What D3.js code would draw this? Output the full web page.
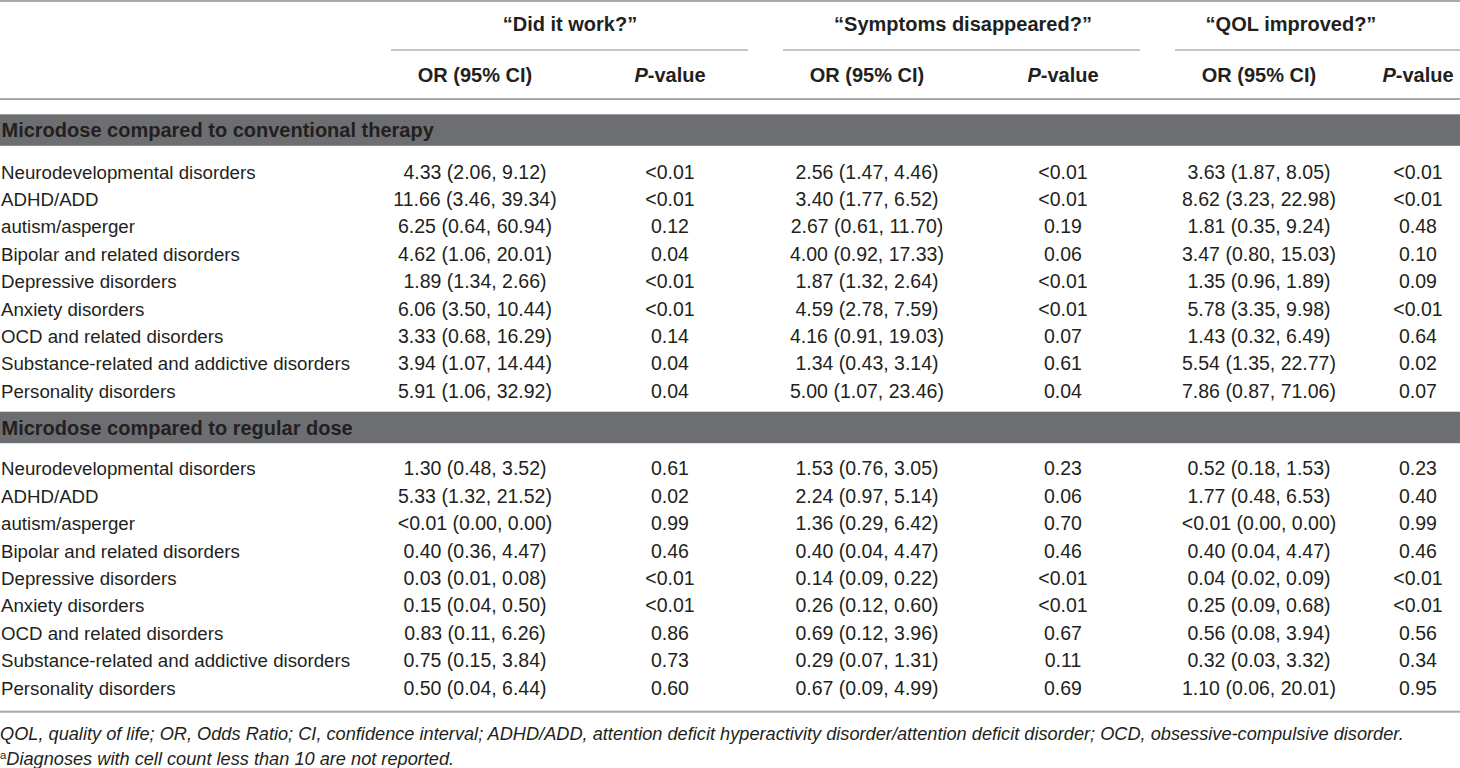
<!DOCTYPE html>
<html>
<head>
<meta charset="utf-8">
<script src="https://cdn.jsdelivr.net/npm/d3@7"></script>
<style>
  body { margin: 0; background: #fff; }
  svg { display: block; font-family: "Liberation Sans", Arial, sans-serif; }
</style>
</head>
<body>
<div id="table"></div>
<script>
// ---- data ----
var groups = ["\u201cDid it work?\u201d", "\u201cSymptoms disappeared?\u201d", "\u201cQOL improved?\u201d"];
var sections = ["Microdose compared to conventional therapy", "Microdose compared to regular dose"];
var diagnoses = [
  "Neurodevelopmental disorders", "ADHD/ADD", "autism/asperger",
  "Bipolar and related disorders", "Depressive disorders", "Anxiety disorders",
  "OCD and related disorders", "Substance-related and addictive disorders", "Personality disorders"
];

// microdose vs conventional therapy
var convWorkOR = ["4.33 (2.06, 9.12)", "11.66 (3.46, 39.34)", "6.25 (0.64, 60.94)", "4.62 (1.06, 20.01)", "1.89 (1.34, 2.66)", "6.06 (3.50, 10.44)", "3.33 (0.68, 16.29)", "3.94 (1.07, 14.44)", "5.91 (1.06, 32.92)"];
var convWorkP = ["<0.01", "<0.01", "0.12", "0.04", "<0.01", "<0.01", "0.14", "0.04", "0.04"];
var convSympOR = ["2.56 (1.47, 4.46)", "3.40 (1.77, 6.52)", "2.67 (0.61, 11.70)", "4.00 (0.92, 17.33)", "1.87 (1.32, 2.64)", "4.59 (2.78, 7.59)", "4.16 (0.91, 19.03)", "1.34 (0.43, 3.14)", "5.00 (1.07, 23.46)"];
var convSympP = ["<0.01", "<0.01", "0.19", "0.06", "<0.01", "<0.01", "0.07", "0.61", "0.04"];
var convQolOR = ["3.63 (1.87, 8.05)", "8.62 (3.23, 22.98)", "1.81 (0.35, 9.24)", "3.47 (0.80, 15.03)", "1.35 (0.96, 1.89)", "5.78 (3.35, 9.98)", "1.43 (0.32, 6.49)", "5.54 (1.35, 22.77)", "7.86 (0.87, 71.06)"];
var convQolP = ["<0.01", "<0.01", "0.48", "0.10", "0.09", "<0.01", "0.64", "0.02", "0.07"];

// microdose vs regular dose
var regWorkOR = ["1.30 (0.48, 3.52)", "5.33 (1.32, 21.52)", "<0.01 (0.00, 0.00)", "0.40 (0.36, 4.47)", "0.03 (0.01, 0.08)", "0.15 (0.04, 0.50)", "0.83 (0.11, 6.26)", "0.75 (0.15, 3.84)", "0.50 (0.04, 6.44)"];
var regWorkP = ["0.61", "0.02", "0.99", "0.46", "<0.01", "<0.01", "0.86", "0.73", "0.60"];
var regSympOR = ["1.53 (0.76, 3.05)", "2.24 (0.97, 5.14)", "1.36 (0.29, 6.42)", "0.40 (0.04, 4.47)", "0.14 (0.09, 0.22)", "0.26 (0.12, 0.60)", "0.69 (0.12, 3.96)", "0.29 (0.07, 1.31)", "0.67 (0.09, 4.99)"];
var regSympP = ["0.23", "0.06", "0.70", "0.46", "<0.01", "<0.01", "0.67", "0.11", "0.69"];
var regQolOR = ["0.52 (0.18, 1.53)", "1.77 (0.48, 6.53)", "<0.01 (0.00, 0.00)", "0.40 (0.04, 4.47)", "0.04 (0.02, 0.09)", "0.25 (0.09, 0.68)", "0.56 (0.08, 3.94)", "0.32 (0.03, 3.32)", "1.10 (0.06, 20.01)"];
var regQolP = ["0.23", "0.40", "0.99", "0.46", "<0.01", "<0.01", "0.56", "0.34", "0.95"];

var footnote1 = "QOL, quality of life; OR, Odds Ratio; CI, confidence interval; ADHD/ADD, attention deficit hyperactivity disorder/attention deficit disorder; OCD, obsessive-compulsive disorder.";
var footnote2 = "Diagnoses with cell count less than 10 are not reported.";

// ---- layout ----
var width = 1460, height = 768;
var ink = "#231f20", ruleLight = "#a7a9ac", ruleDark = "#8c8c8c", barFill = "#6d6e71";
var bodySize = 19.5, labelSize = 18.7, headSize = 20;

var svg = d3.select("#table").append("svg")
  .attr("width", width)
  .attr("height", height);

// column centres (OR, P) per question group
var colKeys = ["g0or", "g0p", "g1or", "g1p", "g2or", "g2p"];
var colX = d3.scaleOrdinal().domain(colKeys).range([475, 670, 867, 1063, 1259, 1418]);
var groupSpan = [[391, 748], [783, 1140], [1175, 1460]];
var groupX = d3.scaleOrdinal().domain(d3.range(3)).range([570, 963, 1291]);

// rows within each section
var rowY = [
  d3.scaleLinear().domain([0, diagnoses.length - 1]).range([171.7, 390.7]),
  d3.scaleLinear().domain([0, diagnoses.length - 1]).range([468.3, 687.7])
];
var barY = [114.3, 411.7], barH = 31.5;

// baseline offset so text is centred on its row
function base(y, size) { return y + size * 0.36; }

// top rule
svg.append("rect").attr("x", 0).attr("y", 0).attr("width", width).attr("height", 2).attr("fill", ruleLight);

// group headers and underlines
svg.selectAll("text.group").data(groups).enter().append("text")
  .attr("class", "group")
  .attr("x", function(d, i) { return groupX(i); })
  .attr("y", base(24, headSize))
  .attr("text-anchor", "middle")
  .attr("font-size", headSize)
  .attr("font-weight", "bold")
  .attr("fill", ink)
  .text(function(d) { return d; });

svg.selectAll("line.gline").data(groupSpan).enter().append("line")
  .attr("class", "gline")
  .attr("x1", function(d) { return d[0]; })
  .attr("x2", function(d) { return d[1]; })
  .attr("y1", 50).attr("y2", 50)
  .attr("stroke", ruleDark).attr("stroke-width", 1.2);

// sub headers
colKeys.forEach(function(k, i) {
  var t = svg.append("text")
    .attr("x", colX(k))
    .attr("y", base(75, headSize))
    .attr("text-anchor", "middle")
    .attr("font-size", headSize)
    .attr("font-weight", "bold")
    .attr("fill", ink);
  if (i % 2 === 0) {
    t.text("OR (95% CI)");
  } else {
    t.append("tspan").attr("font-style", "italic").text("P");
    t.append("tspan").text("-value");
  }
});

svg.append("rect").attr("x", 0).attr("y", 98.3).attr("width", width).attr("height", 1.5).attr("fill", ruleDark);

// sections
var sectionData = [
  [convWorkOR, convWorkP, convSympOR, convSympP, convQolOR, convQolP],
  [regWorkOR, regWorkP, regSympOR, regSympP, regQolOR, regQolP]
];

sections.forEach(function(title, s) {
  var g = svg.append("g").attr("class", "section");

  g.append("rect")
    .attr("x", 0).attr("y", barY[s])
    .attr("width", width).attr("height", barH)
    .attr("fill", barFill);

  g.append("text")
    .attr("x", 1.5)
    .attr("y", base(barY[s] + barH / 2, headSize))
    .attr("font-size", headSize)
    .attr("font-weight", "bold")
    .attr("fill", ink)
    .text(title);

  var y = rowY[s];

  g.selectAll("text.label").data(diagnoses).enter().append("text")
    .attr("class", "label")
    .attr("x", 1)
    .attr("y", function(d, i) { return base(y(i), bodySize); })
    .attr("font-size", labelSize)
    .attr("fill", ink)
    .text(function(d) { return d; });

  sectionData[s].forEach(function(col, c) {
    g.selectAll("text.c" + c).data(col).enter().append("text")
      .attr("class", "c" + c)
      .attr("x", colX(colKeys[c]))
      .attr("y", function(d, i) { return base(y(i), bodySize); })
      .attr("text-anchor", "middle")
      .attr("font-size", bodySize)
      .attr("fill", ink)
      .text(function(d) { return d; });
  });
});

// bottom rule
svg.append("rect").attr("x", 0).attr("y", 710.7).attr("width", width).attr("height", 2).attr("fill", ruleLight);

// footnotes
var fn1 = svg.append("text")
  .attr("x", 0)
  .attr("y", base(733.3, 17.5))
  .attr("font-size", 17.5)
  .attr("font-style", "italic")
  .attr("fill", ink)
  .text(footnote1);
// fit the long footnote to the width it takes in the original
var fnSize = 17.5 * 1405 / fn1.node().getComputedTextLength();
fn1.attr("font-size", fnSize).attr("y", base(733.3, fnSize));

var fn2 = svg.append("text")
  .attr("x", 0)
  .attr("y", base(758.3, fnSize))
  .attr("font-size", fnSize)
  .attr("font-style", "italic")
  .attr("fill", ink);
fn2.append("tspan").attr("font-size", fnSize * 0.62).attr("font-style", "normal").attr("dy", -fnSize * 0.32).text("a");
fn2.append("tspan").attr("dy", fnSize * 0.32).text(footnote2);
</script>
</body>
</html>
